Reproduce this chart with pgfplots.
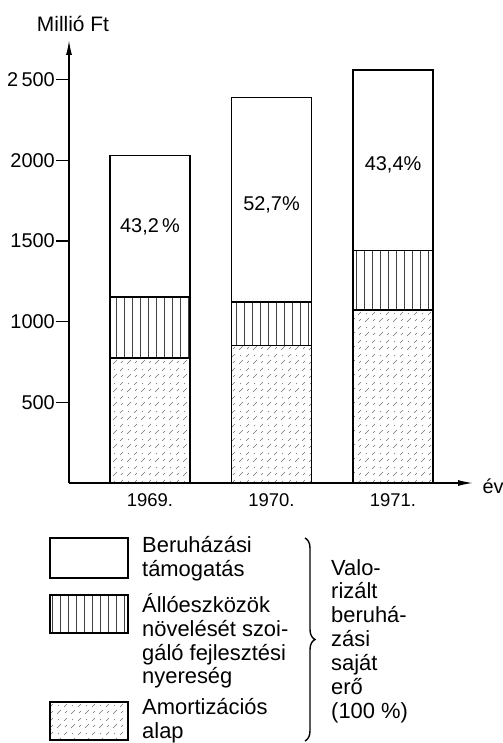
\documentclass[border=0pt]{standalone}
\usepackage{fontspec}
\setmainfont{Liberation Sans}
\usepackage{pgfplots}
\pgfplotsset{compat=1.18}
\usetikzlibrary{patterns,arrows.meta,decorations.pathreplacing}

\pgfdeclarepatternformonly{vlines}{\pgfqpoint{0bp}{-1bp}}{\pgfqpoint{8bp}{9bp}}{\pgfqpoint{8bp}{8bp}}{%
  \pgfsetlinewidth{0.7bp}%
  \pgfpathmoveto{\pgfqpoint{4bp}{-1bp}}\pgfpathlineto{\pgfqpoint{4bp}{9bp}}\pgfusepath{stroke}}

\pgfdeclarepatternformonly{amort}{\pgfqpoint{-1bp}{-1bp}}{\pgfqpoint{15bp}{15bp}}{\pgfqpoint{14bp}{14bp}}{%
  \pgfsetlinewidth{0.6bp}%
  \pgfpathmoveto{\pgfqpoint{1bp}{1bp}}\pgfpathlineto{\pgfqpoint{5bp}{5bp}}%
  \pgfpathmoveto{\pgfqpoint{8bp}{8bp}}\pgfpathlineto{\pgfqpoint{11bp}{11bp}}%
  \pgfpathmoveto{\pgfqpoint{9bp}{2bp}}\pgfpathlineto{\pgfqpoint{11bp}{4bp}}%
  \pgfpathmoveto{\pgfqpoint{2bp}{9bp}}\pgfpathlineto{\pgfqpoint{3bp}{10bp}}%
  \pgfusepath{stroke}}

\begin{document}
\begin{tikzpicture}
\useasboundingbox (-69bp,-260bp) rectangle (434bp,483bp);
\begin{axis}[
  at={(0,0)}, anchor=south west, scale only axis,
  width=404bp, height=443bp,
  xmin=-0.667, xmax=2.658, ymin=0, ymax=2745,
  axis x line=bottom, axis y line=left,
  axis line style={line width=1.4bp, -{Latex[length=15bp,width=6bp]}},
  ybar stacked, bar width=80bp,
  xtick={0,1,2}, xticklabels={1969.,1970.,1971.},
  ytick={500,1000,1500,2000,2500}, yticklabels={500,1000,1500,2000,2\,500},
  tick align=outside, major tick length=13bp,
  xtick style={draw=none},
  ytick style={line width=1.4bp, black},
  yticklabel style={font=\fontsize{20}{22}\selectfont, inner sep=1bp},
  xticklabel style={font=\fontsize{18.5}{22}\selectfont, yshift=6bp},
  clip=false,
]
\addplot[draw=black, line width=1.4bp, pattern=amort, pattern color=black!55]
  coordinates {(0,774) (1,851) (2,1072)};
\addplot[draw=black, line width=1.4bp, pattern=vlines, pattern color=black!75]
  coordinates {(0,378) (1,270) (2,367)};
\addplot[draw=black, line width=1.4bp, fill=white]
  coordinates {(0,876) (1,1269) (2,1120)};
\coordinate (p1) at (axis cs:0,1590);
\coordinate (p2) at (axis cs:1,1725);
\coordinate (p3) at (axis cs:2,1970);
\end{axis}
\node[font=\fontsize{20}{22}\selectfont] at (p1) {43,2\,\%};
\node[font=\fontsize{20}{22}\selectfont] at (p2) {52,7\%};
\node[font=\fontsize{20}{22}\selectfont] at (p3) {43,4\%};
% axis texts
\node[font=\fontsize{21}{22}\selectfont, anchor=base] at (4bp,451bp) {Millió Ft};
\node[font=\fontsize{20}{22}\selectfont, anchor=base west] at (410bp,-10bp) {év};
% legend
\begin{scope}[line width=1.4bp]
\draw (-19bp,-55bp) rectangle (59bp,-95bp);
\draw[pattern=vlines, pattern color=black!75] (-19bp,-112bp) rectangle (59bp,-150bp);
\draw[pattern=amort, pattern color=black!55] (-19bp,-219bp) rectangle (59bp,-257bp);
\end{scope}
\begin{scope}[every node/.style={font=\fontsize{22}{24}\selectfont, anchor=north west, align=left, inner sep=0pt}]
\node at (73bp,-53bp) {Beruházási\\támogatás};
\node at (73bp,-110bp) {Állóeszközök\\növelését szoi-\\gáló fejlesztési\\nyereség};
\node at (73bp,-215bp) {Amortizációs\\alap};
\node at (262bp,-76bp) {Valo-\\rizált\\beruhá-\\zási\\saját\\erő\\(100 \%)};
\end{scope}
\draw[line width=1.4bp, decorate, decoration={brace, amplitude=10bp}] (236bp,-55bp) -- (236bp,-258bp);
\end{tikzpicture}
\end{document}
